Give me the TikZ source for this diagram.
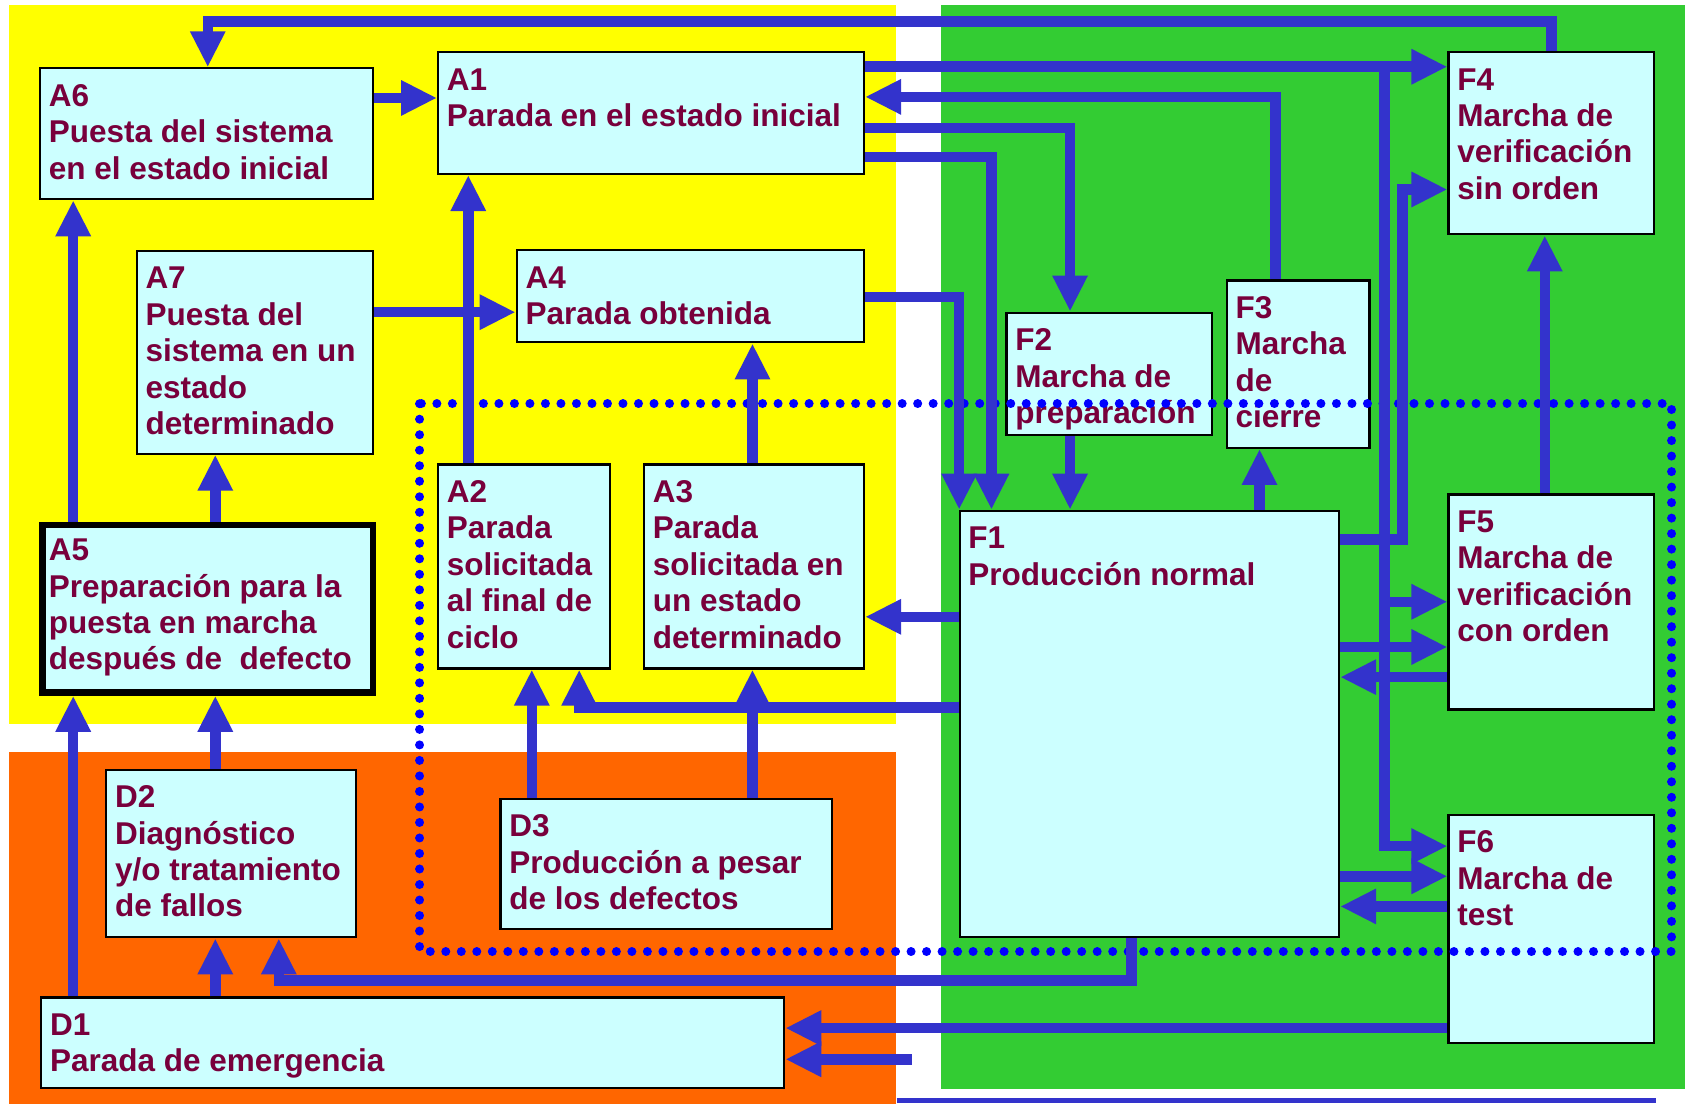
\documentclass[tikz,border=0pt]{standalone}
\usepackage{fontspec}
\setmainfont{Liberation Sans}
\usetikzlibrary{arrows.meta,calc,fit}
\definecolor{ybg}{RGB}{255,255,0}
\definecolor{obg}{RGB}{255,102,0}
\definecolor{gbg}{RGB}{51,204,51}
\definecolor{boxfill}{RGB}{204,255,255}
\definecolor{txtcol}{RGB}{120,0,60}
\definecolor{arrcol}{RGB}{51,51,204}
\definecolor{dotcol}{RGB}{0,0,255}
\tikzset{
  box/.style={draw=black, line width=2.2pt, fill=boxfill, inner sep=0pt, rectangle},
  thickbox/.style={line width=6.5pt},
  txt/.style={inner sep=0pt, align=left, text=txtcol, font=\fontsize{31.5}{36.4}\selectfont\bfseries},
  arr/.style={draw=arrcol, line width=10.5pt, line join=miter, -{Triangle[length=36pt,width=33pt]}},
  dotline/.style={draw=dotcol, line width=9pt, line cap=round, dash pattern=on 0.01pt off 15.5pt},
}
\newcommand\mybox[7][]{%
  \node[box,#1,fit={(#3,#4) (#5,#6)}] (#2) {};
  \node[txt,anchor=north west] (#2t) at ($(#2.north west)+(9,12.5)$) {\strut #7};}
\begin{document}
\begin{tikzpicture}[x=1.0765pt,y=-1.0765pt]
\useasboundingbox (0,0) rectangle (1568.05,1025.55);
\fill[white] (0,0) rectangle (1568.05,1025.55);
% backgrounds
\fill[ybg] (8,4.6) rectangle (832,673);
\fill[obg] (8,699) rectangle (832,1025.55);
\fill[gbg] (874,4.6) rectangle (1565,1012);
\draw[arrcol, line width=5pt] (833,1022) -- (1538,1022);
% boxes
\mybox{A6}{37.3}{63.5}{346.6}{185}{A6\\Puesta del sistema\\en el estado inicial}
\mybox{A1}{407}{48.6}{802.6}{161.6}{A1\\Parada en el estado inicial}
\mybox{A7}{127}{233}{346.6}{421.4}{A7\\Puesta del\\sistema en un\\estado\\determinado}
\mybox{A4}{480}{232.5}{802.6}{318}{A4\\Parada obtenida}
\mybox[thickbox]{A5}{39.3}{487.5}{346.3}{643.3}{A5\\Preparación para la\\puesta en marcha\\después de\ \ defecto}
\mybox{A2}{407}{431.5}{566.3}{621}{A2\\Parada\\solicitada\\al final de\\ciclo}
\mybox{A3}{598.3}{431.5}{802.6}{621}{A3\\Parada\\solicitada en\\un estado\\determinado}
\mybox{D2}{98.7}{715}{330.6}{870.7}{D2\\Diagnóstico\\y/o tratamiento\\de fallos}
\mybox{D3}{465}{742}{773.2}{862.7}{D3\\Producción a pesar\\de los defectos}
\mybox{D1}{38.4}{926.6}{728.5}{1010.5}{D1\\Parada de emergencia}
\mybox{F2}{935}{290.4}{1125.7}{404.1}{F2\\Marcha de\\preparación}
\mybox{F3}{1139.6}{260.5}{1272.2}{416}{F3\\Marcha\\de\\cierre}
\mybox{F4}{1345.6}{48.3}{1536.8}{217.7}{F4\\Marcha de\\verificación\\sin orden}
\mybox{F1}{891.4}{474.5}{1243.9}{870.7}{F1\\Producción normal}
\mybox{F5}{1345.6}{459.4}{1536.8}{659}{F5\\Marcha de\\verificación\\con orden}
\mybox{F6}{1345.6}{756.9}{1536.8}{968.5}{F6\\Marcha de\\test}
% dotted frame
\draw[dotline] (390,375) rectangle (1553,884);
% connectors
\coordinate (stub) at (847,984);
\draw[arr] (F4.north -| 1441,0) |- (193,20) -- (A6.north -| 193,0);
\draw[arr] (A6.east |- 0,91) -- (A1.west |- 0,91);
\draw[arr] (A1.east |- 0,62) -- (F4.west |- 0,62);
\draw[arr] (A1.east |- 0,62) -| (1286,559) -- (F5.west |- 0,559);
\draw[arr] (A1.east |- 0,62) -| (1286,786) -- (F6.west |- 0,786);
\draw[arr] (F3.north -| 1185,0) |- (A1.east |- 0,90);
\draw[arr] (A1.east |- 0,119) -| (F2.north -| 994,0);
\draw[arr] (A1.east |- 0,146) -| (F1.north -| 921,0);
\draw[arr] (A4.east |- 0,276) -| (F1.north -| 891,0);
\draw[arr] (F2.south -| 994,0) -- (F1.north -| 994,0);
\draw[arr] (F1.north -| 1170,0) -- (F3.south -| 1170,0);
\draw[arr] (F1.east |- 0,501) -| (1303,176) -- (F4.west |- 0,176);
\draw[arr] (F1.east |- 0,601) -- (F5.west |- 0,601);
\draw[arr] (F5.west |- 0,629) -- (F1.east |- 0,629);
\draw[arr] (F1.east |- 0,814) -- (F6.west |- 0,814);
\draw[arr] (F6.west |- 0,842) -- (F1.east |- 0,842);
\draw[arr] (F5.north -| 1435,0) -- (F4.south -| 1435,0);
\draw[arr] (F6.west |- 0,955) -- (D1.east |- 0,955);
\draw[arr] (stub) -- (D1.east |- stub);
\draw[arr] (F1.south -| 1051,0) |- (259,911) -- (D2.south -| 259,0);
\draw[arr] (D1.north -| 200,0) -- (D2.south -| 200,0);
\draw[arr] (D1.north -| 68,0) -- (A5.south -| 68,0);
\draw[arr] (D2.north -| 200,0) -- (A5.south -| 200,0);
\draw[arr] (A5.north -| 68,0) -- (A6.south -| 68,0);
\draw[arr] (A5.north -| 200,0) -- (A7.south -| 200,0);
\draw[arr] (A7.east |- 0,290) -- (A4.west |- 0,290);
\draw[arr] (A2.north -| 435,0) -- (A1.south -| 435,0);
\draw[arr] (A3.north -| 699,0) -- (A4.south -| 699,0);
\draw[arr] (D3.north -| 494,0) -- (A2.south -| 494,0);
\draw[arr] (D3.north -| 699,0) -- (A3.south -| 699,0);
\draw[arr] (F1.west |- 0,657) -| (A2.south -| 538,0);
\draw[arr] (F1.west |- 0,573) -- (A3.east |- 0,573);
\end{tikzpicture}
\end{document}
